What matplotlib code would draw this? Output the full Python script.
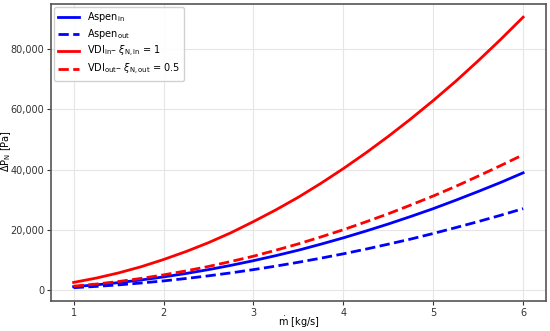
import matplotlib
matplotlib.use("Agg")
import matplotlib.pyplot as plt
from matplotlib.ticker import FuncFormatter

# mass flow [kg/s]
m_dot = [1.0, 1.25, 1.5, 1.75, 2.0, 2.25, 2.5, 2.75, 3.0, 3.25, 3.5,
         3.75, 4.0, 4.25, 4.5, 4.75, 5.0, 5.25, 5.5, 5.75, 6.0]

# pressure loss [Pa]
aspen_in = [1080, 1690, 2430, 3310, 4320, 5470, 6750, 8170, 9720, 11400, 13200,
            15200, 17300, 19550, 21900, 24400, 27000, 29800, 32700, 35700, 38900]
aspen_out = [750, 1170, 1690, 2300, 3000, 3800, 4690, 5670, 6750, 7920, 9190,
             10550, 12000, 13550, 15200, 16900, 18750, 20700, 22700, 24800, 27000]
vdi_in = [2500, 3930, 5660, 7700, 10100, 12750, 15700, 19000, 22700, 26600, 30800,
          35400, 40300, 45500, 51000, 56800, 62900, 69300, 76100, 83200, 90600]
vdi_out = [1250, 1950, 2800, 3830, 5000, 6330, 7800, 9450, 11200, 13200, 15300,
           17600, 20000, 22600, 25300, 28200, 31200, 34400, 37800, 41300, 44900]

fig = plt.figure(figsize=(5.5, 3.31), dpi=100)
ax = fig.add_axes([0.093, 0.09, 0.899, 0.899])

ax.plot(m_dot, aspen_in, color="blue", linewidth=2, label=r"Aspen$_{\rm in}$")
ax.plot(m_dot, aspen_out, color="blue", linewidth=2, linestyle="--", label=r"Aspen$_{\rm out}$")
ax.plot(m_dot, vdi_in, color="red", linewidth=2, label=r"VDI$_{\rm in}$– $\xi_{\rm N,in}$ = 1")
ax.plot(m_dot, vdi_out, color="red", linewidth=2, linestyle="--", label=r"VDI$_{\rm out}$– $\xi_{\rm N,out}$ = 0.5")

ax.set_xlim(0.75, 6.25)
ax.set_xticks([1, 2, 3, 4, 5, 6])
ax.set_yticks([0, 20000, 40000, 60000, 80000])
ax.yaxis.set_major_formatter(FuncFormatter(lambda v, p: f"{int(v):,}"))

ax.set_xlabel(r"$\dot{\rm m}$ [kg/s]", fontsize=7, va="center")
ax.set_ylabel(r"ΔP$_{\rm N}$ [Pa]", fontsize=7, va="center")
ax.xaxis.set_label_coords(0.5, -0.072)
ax.yaxis.set_label_coords(-0.092, 0.505)
ax.tick_params(labelsize=7, colors="#333333", length=3, pad=2)

ax.grid(True, color="#e6e6e6", linewidth=0.8)
for spine in ax.spines.values():
    spine.set_color("#555555")
    spine.set_linewidth(1.2)

ax.legend(loc="upper left", fontsize=7, framealpha=0.9, handlelength=2.2,
          borderaxespad=0.3, labelspacing=0.3)

fig.savefig("out.png", dpi=100)
